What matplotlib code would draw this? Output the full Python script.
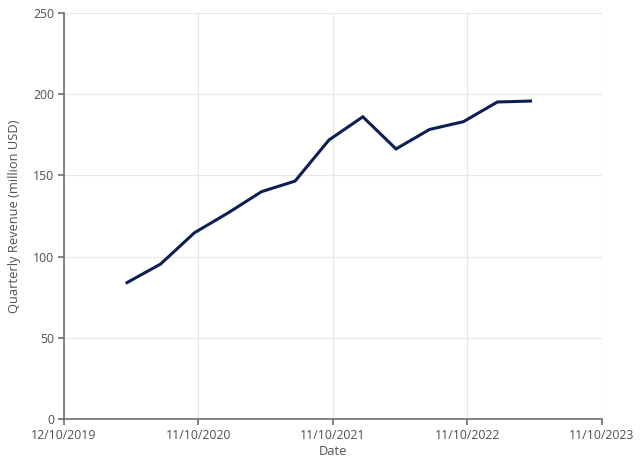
import matplotlib
matplotlib.use('Agg')
import matplotlib.pyplot as plt
import matplotlib.dates as mdates
import pandas as pd

# quarterly revenue, million USD
dates = ['2020-03-31', '2020-06-30', '2020-09-30', '2020-12-31',
         '2021-03-31', '2021-06-30', '2021-09-30', '2021-12-31',
         '2022-03-31', '2022-06-30', '2022-09-30', '2022-12-31',
         '2023-03-31']
revenue = [84, 95.4, 114.7, 127, 140, 146.5, 171.8, 186.1,
           166.3, 178.3, 183.1, 195.2, 195.8]
tick_dates = ['2019-10-12', '2020-10-11', '2021-10-11', '2022-10-11', '2023-10-11']
y_ticks = [0, 50, 100, 150, 200, 250]

plt.rcParams['font.family'] = ['Open Sans', 'DejaVu Sans']
text_col = '#505050'

fig = plt.figure(figsize=(6.4, 4.65), dpi=100)
ax = fig.add_axes([0.1, 0.0989, 0.8406, 0.8731])

x = pd.to_datetime(dates)
ticks = pd.to_datetime(tick_dates)
ax.plot(x, revenue, color='#0c1f55', linewidth=2.2, solid_joinstyle='miter')

ax.set_xlim(ticks[0], ticks[-1])
ax.set_ylim(0, 250)
ax.set_xticks(ticks)
ax.xaxis.set_major_formatter(mdates.DateFormatter('%d/%m/%Y'))
ax.set_yticks(y_ticks)

ax.grid(True, color='#e6e6e6', linewidth=0.8)
ax.set_axisbelow(True)
for s in ['top', 'right']:
    ax.spines[s].set_visible(False)
for s in ['left', 'bottom']:
    ax.spines[s].set_color('#6e6e6e')
    ax.spines[s].set_linewidth(1.2)

ax.tick_params(axis='both', colors='#6e6e6e', labelcolor=text_col,
               labelsize=8.8, length=4, width=1.2, pad=3)

ax.set_xlabel('Date', color=text_col, fontsize=9.3, labelpad=2)
ax.set_ylabel('Quarterly Revenue (million USD)', color=text_col, fontsize=9.3, labelpad=9)

fig.savefig('out.png', dpi=100)
